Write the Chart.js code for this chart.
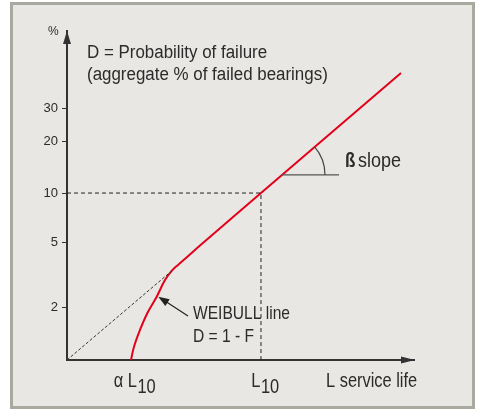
<!DOCTYPE html>
<html>
<head>
<meta charset="utf-8">
<script src="https://cdn.jsdelivr.net/npm/chart.js@4.4.1/dist/chart.umd.min.js"></script>
<style>
html, body { margin: 0; background: #fff; }
#frame { position: absolute; left: 10px; top: 2px; width: 459px; height: 401px; border: 3px solid #a9aa9f; background: #e8e7e3; }
#weibull { position: absolute; left: 0; top: 0; }
</style>
</head>
<body>
<div id="frame"></div>
<canvas id="weibull" width="477" height="409"></canvas>
<script>
// Life axis in relative log-life units, failure axis in percent (Weibull paper)
const lifeMax = 10;
const failMin = 0.933;
const failMax = 66.8;

const yTicks = [2, 5, 10, 20, 30];

// alpha·L10 and L10 markers on the life axis
const lifeMarks = [1.83, 5.59];
const lifeMarkMain = ['α L', 'L'];
const lifeMarkSub = ['10', '10'];

// Weibull line (red): curved start, then straight
const curveLife = [1.844, 1.931, 2.104, 2.314, 2.585, 2.824, 3.017, 3.199, 3.429, 3.833, 5.59, 9.625];
const curveFail = [0.933, 1.13, 1.44, 1.83, 2.32, 2.94, 3.35, 3.65, 4.03, 4.81, 10, 45.1];

// straight part extended back to the origin
const extLife = [0, 3.017];
const extFail = [failMin, 3.35];

// L10 guide lines
const guideLife = [0, 5.59, 5.59];
const guideFail = [10, 10, failMin];

// slope marker base line
const slopeLife = [6.196, 7.84];
const slopeFail = [12.8, 12.8];

// pointer to the Weibull line (tail, head)
const pointerLife = [3.487, 2.631];
const pointerFail = [1.76, 2.32];

const weib = p => Math.log(-Math.log(1 - p / 100));
const pts = (xs, ys) => xs.map((x, i) => ({ x: x, y: weib(ys[i]) }));

const ink = '#333333';
const red = '#e3001b';
const family = '"Liberation Sans", Arial, sans-serif';

// condensed text: regular face squeezed horizontally
function label(c, text, x, y, size, squeeze, weight) {
    c.save();
    c.font = (weight || '') + ' ' + size + 'px ' + family;
    c.translate(x, y);
    c.scale(squeeze, 1);
    c.fillText(text, 0, 0);
    c.restore();
}

const annotations = {
    id: 'annotations',
    afterDraw(chart) {
        const c = chart.ctx;
        const xs = chart.scales.x, ys = chart.scales.y;
        const area = chart.chartArea;
        const px = (l, f) => [xs.getPixelForValue(l), ys.getPixelForValue(weib(f))];

        c.save();
        c.fillStyle = ink;
        c.strokeStyle = ink;

        // arrow heads on both axes
        c.beginPath();
        c.moveTo(area.left, area.top);
        c.lineTo(area.left - 4, area.top + 13);
        c.lineTo(area.left + 4, area.top + 13);
        c.closePath();
        c.fill();
        c.beginPath();
        c.moveTo(area.right + 1, area.bottom);
        c.lineTo(area.right - 13, area.bottom - 3.5);
        c.lineTo(area.right - 13, area.bottom + 3.5);
        c.closePath();
        c.fill();

        // slope angle arc
        const n = curveLife.length;
        const [sx, sy] = px(slopeLife[0], slopeFail[0]);
        const [ax, ay] = px(curveLife[n - 2], curveFail[n - 2]);
        const [bx, by] = px(curveLife[n - 1], curveFail[n - 1]);
        const ang = Math.atan2(by - ay, bx - ax);
        c.lineWidth = 1.2;
        c.strokeStyle = '#444';
        c.beginPath();
        c.arc(sx, sy, 43, ang, 0);
        c.stroke();

        // pointer arrow
        const [tx, ty] = px(pointerLife[0], pointerFail[0]);
        const [hx, hy] = px(pointerLife[1], pointerFail[1]);
        const a = Math.atan2(hy - ty, hx - tx);
        c.strokeStyle = '#222';
        c.lineWidth = 1.2;
        c.beginPath();
        c.moveTo(tx, ty);
        c.lineTo(hx - 8 * Math.cos(a), hy - 8 * Math.sin(a));
        c.stroke();
        c.fillStyle = '#222';
        c.beginPath();
        c.moveTo(hx, hy);
        c.lineTo(hx - 11 * Math.cos(a) + 4 * Math.sin(a), hy - 11 * Math.sin(a) - 4 * Math.cos(a));
        c.lineTo(hx - 11 * Math.cos(a) - 4 * Math.sin(a), hy - 11 * Math.sin(a) + 4 * Math.cos(a));
        c.closePath();
        c.fill();

        // texts
        c.fillStyle = '#2b2b2b';
        c.textBaseline = 'alphabetic';
        c.textAlign = 'left';
        label(c, '%', 48, 35, 12, 1);

        label(c, 'D = Probability of failure', 87, 58, 18, 0.94);
        label(c, '(aggregate % of failed bearings)', 87, 80, 18, 0.94);

        label(c, 'ß', 345, 167, 20, 0.85, 'bold');
        label(c, 'slope', 358, 167, 20, 0.9);

        label(c, 'WEIBULL line', 193, 319, 19, 0.82);
        label(c, 'D = 1 - F', 193, 342, 19, 0.82);

        // life axis labels with subscripts
        c.font = '20px ' + family;
        lifeMarks.forEach((v, i) => {
            const w1 = c.measureText(lifeMarkMain[i]).width * 0.82;
            const w2 = c.measureText(lifeMarkSub[i]).width * 0.82;
            const left = xs.getPixelForValue(v) + 4 - (w1 + w2) / 2;
            label(c, lifeMarkMain[i], left, 386.5, 20, 0.82);
            label(c, lifeMarkSub[i], left + w1 + 0.5, 392.5, 20, 0.82);
        });
        label(c, 'L service life', 326, 386.5, 20, 0.82);
        c.restore();
    }
};

new Chart(document.getElementById('weibull'), {
    type: 'scatter',
    data: {
        datasets: [
            { data: pts(guideLife, guideFail), borderColor: '#222', borderWidth: 1, borderDash: [4, 3] },
            { data: pts(extLife, extFail), borderColor: '#333', borderWidth: 1, borderDash: [3, 2] },
            { data: pts(slopeLife, slopeFail), borderColor: '#555', borderWidth: 1.3 },
            { data: pts(curveLife, curveFail), borderColor: red, borderWidth: 2, tension: 0.4 }
        ]
    },
    options: {
        responsive: false,
        animation: false,
        devicePixelRatio: 1,
        showLine: true,
        elements: { point: { radius: 0, hoverRadius: 0 } },
        layout: { padding: { top: 31, right: 63, left: 0, bottom: 0 } },
        plugins: { legend: { display: false }, tooltip: { enabled: false } },
        scales: {
            x: {
                type: 'linear',
                min: 0,
                max: lifeMax,
                ticks: { display: false },
                grid: { display: false },
                border: { display: true, color: ink, width: 2 },
                afterFit: s => { s.height = 49; }
            },
            y: {
                type: 'linear',
                min: weib(failMin),
                max: weib(failMax),
                afterBuildTicks: s => { s.ticks = yTicks.map(v => ({ value: weib(v) })); },
                ticks: {
                    color: '#2b2b2b',
                    font: { family: family, size: 13 },
                    padding: 4,
                    callback: (val, i) => yTicks[i]
                },
                grid: { display: true, drawOnChartArea: false, drawTicks: true, tickLength: 5, color: ink, lineWidth: 1 },
                border: { display: true, color: ink, width: 2 },
                afterFit: s => { s.width = 67; }
            }
        }
    },
    plugins: [annotations]
});
</script>
</body>
</html>
